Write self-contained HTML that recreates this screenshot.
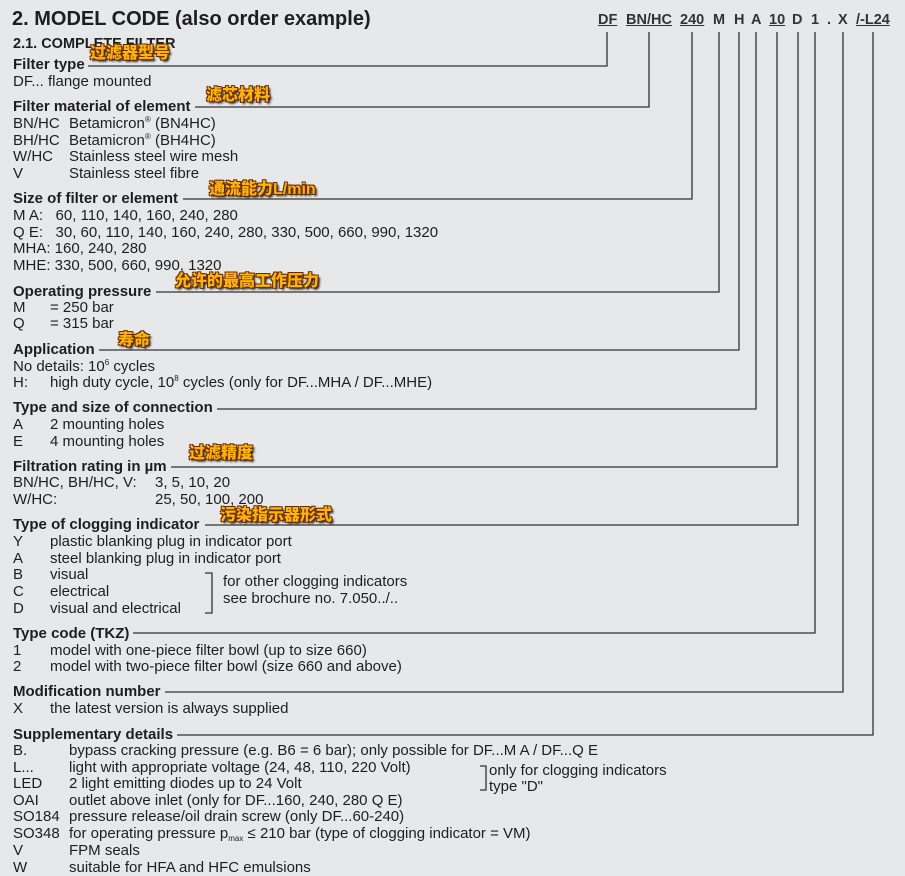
<!DOCTYPE html>
<html><head><meta charset="utf-8"><style>
html,body{margin:0;padding:0}
body{width:905px;height:876px;background:#e7e8ea;position:relative;overflow:hidden;font-family:"Liberation Sans",Arial,sans-serif;color:#1e1e1e}
.t,.n{position:absolute;font-size:15px;line-height:17px;white-space:nowrap}
.b{font-weight:bold}
.c{position:absolute}
sup,sub{font-size:8px;line-height:0;position:relative;vertical-align:baseline}
sup{top:-6px}
sub{top:3px}
.cn{position:absolute;font-family:"Liberation Sans","Noto Sans CJK SC",sans-serif;font-weight:900;font-size:16px;line-height:17px;color:#ffb400;white-space:nowrap;text-shadow:-1px -1px 0 #6a2a00,1px -1px 0 #6a2a00,-1px 1px 0 #6a2a00,1px 1px 0 #6a2a00,2px 2px 2px #000}
.code{position:absolute;top:12px;font-size:14.5px;font-weight:bold;line-height:17px;color:#333}
.u{text-decoration:underline}
</style></head><body>
<div class="t b" style="left:12px;top:8px;font-size:20px;line-height:22px">2. MODEL CODE (also order example)</div>
<div class="t b" style="left:13px;top:36px;font-size:14.5px">2.1. COMPLETE FILTER</div>

<div class="code u" style="left:598px">DF</div>
<div class="code u" style="left:626px">BN/HC</div>
<div class="code u" style="left:680px">240</div>
<div class="code" style="left:713px">M</div>
<div class="code" style="left:734px">H</div>
<div class="code" style="left:751px">A</div>
<div class="code u" style="left:769px">10</div>
<div class="code" style="left:792px">D</div>
<div class="code" style="left:811px">1</div>
<div class="code" style="left:827px">.</div>
<div class="code" style="left:838px">X</div>
<div class="code u" style="left:856px">/-L24</div>

<svg class="c" style="left:0;top:0" width="905" height="876">
<g stroke="#333" stroke-width="1.3" fill="none">
<polyline points="88,66 607,66 607,32"/>
<polyline points="195,107 649,107 649,32"/>
<polyline points="183,199 692,199 692,32"/>
<polyline points="156,292 719,292 719,32"/>
<polyline points="99,350 739,350 739,32"/>
<polyline points="217,409 756,409 756,32"/>
<polyline points="171,467 777,467 777,32"/>
<polyline points="205,525 798,525 798,32"/>
<polyline points="133,633 815,633 815,32"/>
<polyline points="165,692 843,692 843,32"/>
<polyline points="177,735 873,735 873,32"/>
<polyline points="205,573 212,573 212,613 205,613"/>
<polyline points="480,766 486,766 486,790 480,790"/>
</g></svg>

<div class="t b" style="left:13px;top:56px">Filter type</div>
<div class="t" style="left:13px;top:73px">DF... flange mounted</div>

<div class="t b" style="left:13px;top:98px">Filter material of element</div>
<div class="t" style="left:13px;top:115px">BN/HC</div><div class="t" style="left:69px;top:115px">Betamicron<sup>®</sup> (BN4HC)</div>
<div class="t" style="left:13px;top:132px">BH/HC</div><div class="t" style="left:69px;top:132px">Betamicron<sup>®</sup> (BH4HC)</div>
<div class="t" style="left:13px;top:148px">W/HC</div><div class="t" style="left:69px;top:148px">Stainless steel wire mesh</div>
<div class="t" style="left:13px;top:165px">V</div><div class="t" style="left:69px;top:165px">Stainless steel fibre</div>

<div class="t b" style="left:13px;top:190px">Size of filter or element</div>
<div class="t" style="left:13px;top:207px">M A:&nbsp;&nbsp; 60, 110, 140, 160, 240, 280</div>
<div class="t" style="left:13px;top:224px">Q E:&nbsp;&nbsp; 30, 60, 110, 140, 160, 240, 280, 330, 500, 660, 990, 1320</div>
<div class="t" style="left:13px;top:240px">MHA: 160, 240, 280</div>
<div class="t" style="left:13px;top:257px">MHE: 330, 500, 660, 990, 1320</div>

<div class="t b" style="left:13px;top:283px">Operating pressure</div>
<div class="t" style="left:13px;top:299px">M</div><div class="t" style="left:50px;top:299px">= 250 bar</div>
<div class="t" style="left:13px;top:315px">Q</div><div class="t" style="left:50px;top:315px">= 315 bar</div>

<div class="t b" style="left:13px;top:341px">Application</div>
<div class="t" style="left:13px;top:358px">No details: 10<sup>6</sup> cycles</div>
<div class="t" style="left:13px;top:374px">H:</div><div class="t" style="left:50px;top:374px">high duty cycle, 10<sup>8</sup> cycles (only for DF...MHA / DF...MHE)</div>

<div class="t b" style="left:13px;top:399px">Type and size of connection</div>
<div class="t" style="left:13px;top:416px">A</div><div class="t" style="left:50px;top:416px">2 mounting holes</div>
<div class="t" style="left:13px;top:433px">E</div><div class="t" style="left:50px;top:433px">4 mounting holes</div>

<div class="t b" style="left:13px;top:458px">Filtration rating in µm</div>
<div class="t" style="left:13px;top:474px">BN/HC, BH/HC, V:</div><div class="t" style="left:155px;top:474px">3, 5, 10, 20</div>
<div class="t" style="left:13px;top:491px">W/HC:</div><div class="t" style="left:155px;top:491px">25, 50, 100, 200</div>

<div class="t b" style="left:13px;top:516px">Type of clogging indicator</div>
<div class="t" style="left:13px;top:533px">Y</div><div class="t" style="left:50px;top:533px">plastic blanking plug in indicator port</div>
<div class="t" style="left:13px;top:550px">A</div><div class="t" style="left:50px;top:550px">steel blanking plug in indicator port</div>
<div class="t" style="left:13px;top:566px">B</div><div class="t" style="left:50px;top:566px">visual</div>
<div class="t" style="left:13px;top:583px">C</div><div class="t" style="left:50px;top:583px">electrical</div>
<div class="t" style="left:13px;top:600px">D</div><div class="t" style="left:50px;top:600px">visual and electrical</div>
<div class="t" style="left:223px;top:573px">for other clogging indicators</div>
<div class="t" style="left:223px;top:590px">see brochure no. 7.050../..</div>

<div class="t b" style="left:13px;top:625px">Type code (TKZ)</div>
<div class="t" style="left:13px;top:642px">1</div><div class="t" style="left:50px;top:642px">model with one-piece filter bowl (up to size 660)</div>
<div class="t" style="left:13px;top:658px">2</div><div class="t" style="left:50px;top:658px">model with two-piece filter bowl (size 660 and above)</div>

<div class="t b" style="left:13px;top:683px">Modification number</div>
<div class="t" style="left:13px;top:700px">X</div><div class="t" style="left:50px;top:700px">the latest version is always supplied</div>

<div class="t b" style="left:13px;top:726px">Supplementary details</div>
<div class="n" style="left:13px;top:742px">B.</div><div class="n" style="left:69px;top:742px">bypass cracking pressure (e.g. B6 = 6 bar); only possible for DF...M A / DF...Q E</div>
<div class="n" style="left:13px;top:759px">L...</div><div class="n" style="left:69px;top:759px">light with appropriate voltage (24, 48, 110, 220 Volt)</div>
<div class="n" style="left:13px;top:775px">LED</div><div class="n" style="left:69px;top:775px">2 light emitting diodes up to 24 Volt</div>
<div class="n" style="left:13px;top:792px">OAI</div><div class="n" style="left:69px;top:792px">outlet above inlet (only for DF...160, 240, 280 Q E)</div>
<div class="n" style="left:13px;top:808px">SO184</div><div class="n" style="left:69px;top:808px">pressure release/oil drain screw (only DF...60-240)</div>
<div class="n" style="left:13px;top:825px">SO348</div><div class="n" style="left:69px;top:825px">for operating pressure p<sub>max</sub> ≤ 210 bar (type of clogging indicator = VM)</div>
<div class="n" style="left:13px;top:842px">V</div><div class="n" style="left:69px;top:842px">FPM seals</div>
<div class="n" style="left:13px;top:859px">W</div><div class="n" style="left:69px;top:859px">suitable for HFA and HFC emulsions</div>
<div class="n" style="left:489px;top:762px">only for clogging indicators</div>
<div class="n" style="left:489px;top:778px">type "D"</div>

<div class="cn" style="left:90px;top:45px">过滤器型号</div>
<div class="cn" style="left:206px;top:87px">滤芯材料</div>
<div class="cn" style="left:209px;top:181px">通流能力L/min</div>
<div class="cn" style="left:175px;top:273px">允许的最高工作压力</div>
<div class="cn" style="left:118px;top:332px">寿命</div>
<div class="cn" style="left:189px;top:445px">过滤精度</div>
<div class="cn" style="left:220px;top:507px">污染指示器形式</div>
</body></html>
